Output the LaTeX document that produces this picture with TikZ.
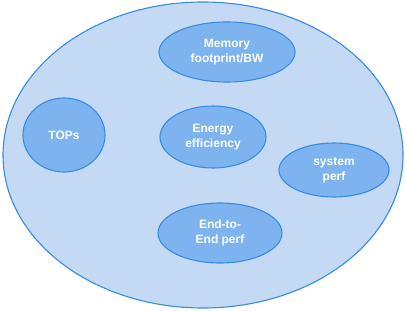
\documentclass[tikz,border=0pt]{standalone}
\usepackage{fontspec}
\setmainfont{Liberation Sans}
\usepackage{xcolor}
\usetikzlibrary{shapes.geometric, positioning}

\definecolor{outerfill}{HTML}{C3D9F4}
\definecolor{innerfill}{HTML}{7DB3EE}
\definecolor{lineblue}{HTML}{3A8BE2}

\begin{document}
\begin{tikzpicture}[x=1pt, y=-1pt, line width=1.1pt,
    metric/.style={ellipse, draw=lineblue, fill=innerfill, text=white, inner sep=0pt,
      align=center, font=\fontsize{12}{15}\selectfont\bfseries}]
    \useasboundingbox (0,0) rectangle (406,310);
    \node[ellipse, draw=lineblue, fill=outerfill, minimum width=400, minimum height=306] (space) at (203,155) {};
    \node[metric, minimum width=136, minimum height=60] (mem) at (227,52) {Memory\\footprint/BW};
    \node[metric, minimum width=82, minimum height=74] (tops) at (64,135) {TOPs};
    \node[metric, minimum width=106, minimum height=62] (energy) at (213,137) {Energy\\efficiency};
    \node[metric, minimum width=110, minimum height=54] (sys) at (334,170) {system\\perf};
    \node[metric, minimum width=124, minimum height=60] (e2e) at (220,233) {End-to-\\End perf};
  \end{tikzpicture}
\end{document}
